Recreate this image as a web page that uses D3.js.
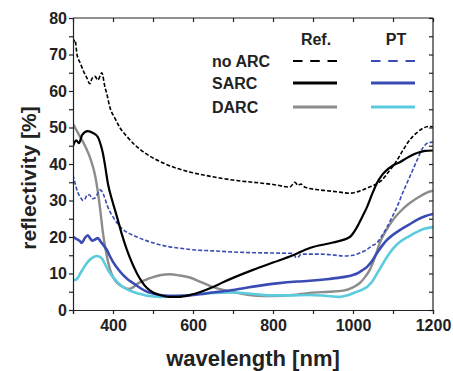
<!DOCTYPE html>
<html>
<head>
<meta charset="utf-8">
<script src="https://cdn.jsdelivr.net/npm/d3@7"></script>
<style>
  body { margin: 0; background: #fff; }
  text { font-family: "Liberation Sans", Arial, sans-serif; font-weight: bold; }
</style>
</head>
<body>
<svg id="chart" width="453" height="371"></svg>
<script>
// wavelength [nm] / reflectivity [%]
var noArcRef = [[300,73],[305,74],[310,70],[318,67.7],[328,65],[335,63.5],[342,62],[348,63.5],[355,64],[362,63],[372,65],[380,61],[385,59],[392,55.6],[405,52.5],[417,50],[435,47.5],[460,44.7],[490,42.3],[525,40.3],[560,38.8],[592,37.8],[650,36.5],[700,35.6],[767,34.8],[800,34.4],[842,33.7],[855,35],[862,34.2],[870,34.5],[880,33.6],[917,32.9],[960,32.4],[992,32],[1015,32.5],[1035,33.4],[1055,34.3],[1072,35.6],[1090,38],[1110,41],[1125,43.8],[1142,46.6],[1160,48.6],[1175,49.8],[1190,50.3],[1200,50.2]];
var sarcRef = [[300,45],[308,46.5],[315,45.7],[323,48],[337,49],[350,48.5],[362,47.4],[370,45],[375,42.8],[380,39.7],[387,34.8],[398,30],[410,25.5],[422,20.8],[435,16.4],[448,12.8],[460,10],[472,7.8],[485,6],[500,4.8],[517,4.1],[540,3.6],[565,3.6],[592,4.1],[620,5],[650,6.3],[675,7.6],[700,8.8],[750,11],[800,13],[850,15],[892,17],[950,18.5],[992,20],[1010,22.7],[1022,25.3],[1035,28.2],[1048,31.8],[1060,34.8],[1072,36.9],[1085,38.4],[1100,39.6],[1117,40.5],[1140,42],[1160,43],[1180,43.6],[1200,43.7]];
var darcRef = [[300,51],[315,48],[330,45],[345,41],[355,37],[362,32.5],[368,27.5],[375,21],[385,14.5],[400,9],[425,6.3],[440,5.8],[450,6.2],[460,7.1],[480,8.2],[500,9],[520,9.6],[542,9.8],[565,9.5],[592,8.9],[617,7.8],[645,6.5],[675,5.5],[720,4.5],[760,3.9],[800,3.8],[850,4.1],[892,4.7],[940,5],[975,5.3],[1000,6.2],[1017,7.4],[1030,9],[1042,11],[1055,14.5],[1067,18.4],[1083,21.8],[1100,24.7],[1120,27.2],[1142,29.3],[1170,31.3],[1190,32.4],[1200,32.6]];
var noArcPt = [[300,37],[305,34.8],[312,32.2],[318,31],[325,30],[330,30.4],[336,31.6],[342,31.5],[348,30.5],[355,30.7],[362,32],[367,32.9],[375,32],[380,30.5],[385,28.8],[392,27],[400,25.5],[412,23.6],[425,22],[440,21],[460,20],[480,19.1],[500,18.4],[520,17.8],[542,17.3],[570,16.9],[600,16.5],[650,16.2],[700,15.9],[750,15.7],[810,15.6],[850,15.5],[858,14.4],[864,14.6],[870,15.3],[917,15.3],[950,15.1],[975,14.8],[1000,15],[1017,15.6],[1035,16.6],[1048,17.6],[1060,18.4],[1072,20.3],[1085,22.7],[1097,25.3],[1110,28.2],[1122,31.5],[1135,34.8],[1148,38],[1160,41],[1175,44.5],[1188,45.8],[1200,46]];
var sarcPt = [[300,20],[308,19.5],[317,18.9],[322,18.4],[330,19.8],[337,20.5],[343,19.6],[348,19],[355,19.3],[362,19.7],[370,18.6],[378,17.5],[385,16.4],[392,14.8],[400,13.2],[412,11.3],[425,9.6],[438,8.3],[450,7.4],[467,6.1],[485,5],[500,4.5],[517,4.1],[540,3.9],[567,3.9],[592,4],[617,4.3],[650,4.8],[700,5.5],[750,6.4],[810,7.3],[860,7.8],[892,8],[940,8.5],[975,9],[1000,9.6],[1010,10],[1022,10.8],[1035,11.8],[1048,13.5],[1060,15.6],[1072,17.5],[1085,19.2],[1100,20.6],[1117,21.9],[1140,23.4],[1160,24.7],[1180,25.7],[1200,26.3]];
var darcPt = [[300,8.2],[305,8.2],[312,8.8],[318,10],[328,11.8],[337,13.2],[348,14.3],[360,14.8],[372,14.2],[378,13],[385,11.5],[392,10.2],[400,9],[412,7.5],[425,6.3],[438,5.5],[450,5],[467,4.4],[485,3.9],[517,3.6],[567,3.8],[592,4.1],[617,4.5],[650,4.7],[700,4.8],[750,4.4],[790,4],[840,4],[892,4.1],[930,3.9],[967,3.6],[985,4],[1000,4.6],[1017,5.3],[1035,6.3],[1048,7.8],[1060,10],[1072,12.2],[1085,14.5],[1100,16.8],[1117,18.6],[1140,20.2],[1160,21.4],[1180,22.3],[1200,22.7]];

var xTicks = [400, 600, 800, 1000, 1200];
var yTicks = [0, 10, 20, 30, 40, 50, 60, 70, 80];
var legendRows = ["no ARC", "SARC", "DARC"];
var legendCols = ["Ref.", "PT"];

var black = "#000000", grey = "#8c8c8c", blue = "#3a4cb4", cyan = "#5ccbdd";

var svg = d3.select("#chart");
var margin = {left: 73, right: 20, top: 18, bottom: 61};
var width = 453 - margin.left - margin.right;
var height = 371 - margin.top - margin.bottom;

var x = d3.scaleLinear().domain([300, 1200]).range([0, width]);
var y = d3.scaleLinear().domain([0, 80]).range([height, 0]);

var g = svg.append("g").attr("transform", `translate(${margin.left},${margin.top})`);

var line = d3.line()
  .x(d => x(d[0]))
  .y(d => y(d[1]))
  .curve(d3.curveMonotoneX);

var series = [
  {data: darcRef, color: grey, w: 2.4, dash: null},
  {data: darcPt, color: cyan, w: 2.6, dash: null},
  {data: sarcPt, color: blue, w: 2.6, dash: null},
  {data: noArcPt, color: blue, w: 1.6, dash: "4,2"},
  {data: sarcRef, color: black, w: 2.2, dash: null},
  {data: noArcRef, color: black, w: 1.6, dash: "4,2"}
];

g.append("defs").append("clipPath").attr("id", "clip")
  .append("rect").attr("width", width).attr("height", height);

g.append("g").attr("clip-path", "url(#clip)")
  .selectAll("path")
  .data(series)
  .join("path")
  .attr("d", d => line(d.data))
  .attr("fill", "none")
  .attr("stroke", d => d.color)
  .attr("stroke-width", d => d.w)
  .attr("stroke-dasharray", d => d.dash)
  .attr("stroke-linejoin", "round");

// axes
var minorX = d3.range(300, 1201, 100);
var minorY = d3.range(0, 81, 5);

var xAxis = g.append("g").attr("transform", `translate(0,${height})`)
  .call(d3.axisBottom(x).tickValues(minorX).tickSize(4)
    .tickFormat(d => xTicks.includes(d) ? d : ""));
var yAxis = g.append("g")
  .call(d3.axisLeft(y).tickValues(minorY).tickSize(4)
    .tickFormat(d => yTicks.includes(d) ? d : ""));
var xTop = g.append("g")
  .call(d3.axisBottom(x).tickValues(minorX).tickSize(4).tickFormat(""));
var yRight = g.append("g").attr("transform", `translate(${width},0)`)
  .call(d3.axisLeft(y).tickValues(minorY).tickSize(4).tickFormat(""));

[xAxis, yAxis, xTop, yRight].forEach(a => {
  a.select(".domain").attr("stroke", "#222").attr("stroke-width", 1.2);
  a.selectAll(".tick line").attr("stroke", "#222").attr("stroke-width", 1.2);
});
xTop.select(".domain").remove();
yRight.select(".domain").remove();
g.append("line").attr("x1", 0).attr("x2", width).attr("y1", 0).attr("y2", 0)
  .attr("stroke", "#222").attr("stroke-width", 1.2);
g.append("line").attr("x1", width).attr("x2", width).attr("y1", 0).attr("y2", height)
  .attr("stroke", "#222").attr("stroke-width", 1.2);

xAxis.selectAll(".tick text")
  .attr("font-size", 16).attr("font-family", "Liberation Sans").attr("font-weight", "bold")
  .attr("fill", "#222").attr("dy", "0.85em");
yAxis.selectAll(".tick text")
  .attr("font-size", 16).attr("font-family", "Liberation Sans").attr("font-weight", "bold")
  .attr("fill", "#222").attr("x", -6);

g.append("text")
  .attr("x", width / 2).attr("y", height + 56)
  .attr("text-anchor", "middle").attr("font-size", 22).attr("fill", "#222")
  .text("wavelength [nm]");
g.append("text")
  .attr("transform", `translate(-37,${height / 2 + 14}) rotate(-90)`)
  .attr("text-anchor", "middle").attr("font-size", 21).attr("fill", "#222")
  .text("reflectivity [%]");

// legend
var legX = 212, colX = [293, 371], colW = 44;
var rowY = [61, 83, 107];
var legendStyles = [
  [{color: black, w: 2, dash: "9.5,7.75"}, {color: blue, w: 2, dash: "9.5,7.75"}],
  [{color: black, w: 3, dash: null}, {color: blue, w: 3, dash: null}],
  [{color: grey, w: 3, dash: null}, {color: cyan, w: 3, dash: null}]
];
var colCenter = [316, 396];
legendCols.forEach((c, i) => {
  svg.append("text").attr("x", colCenter[i]).attr("y", 45)
    .attr("text-anchor", "middle").attr("font-size", 16).attr("fill", "#222").text(c);
});
legendRows.forEach((r, j) => {
  svg.append("text").attr("x", legX).attr("y", rowY[j] + 6)
    .attr("font-size", 16).attr("fill", "#222").text(r);
  legendStyles[j].forEach((s, i) => {
    svg.append("line")
      .attr("x1", colX[i]).attr("x2", colX[i] + colW)
      .attr("y1", rowY[j]).attr("y2", rowY[j])
      .attr("stroke", s.color).attr("stroke-width", s.w)
      .attr("stroke-dasharray", s.dash);
  });
});
</script>
</body>
</html>
